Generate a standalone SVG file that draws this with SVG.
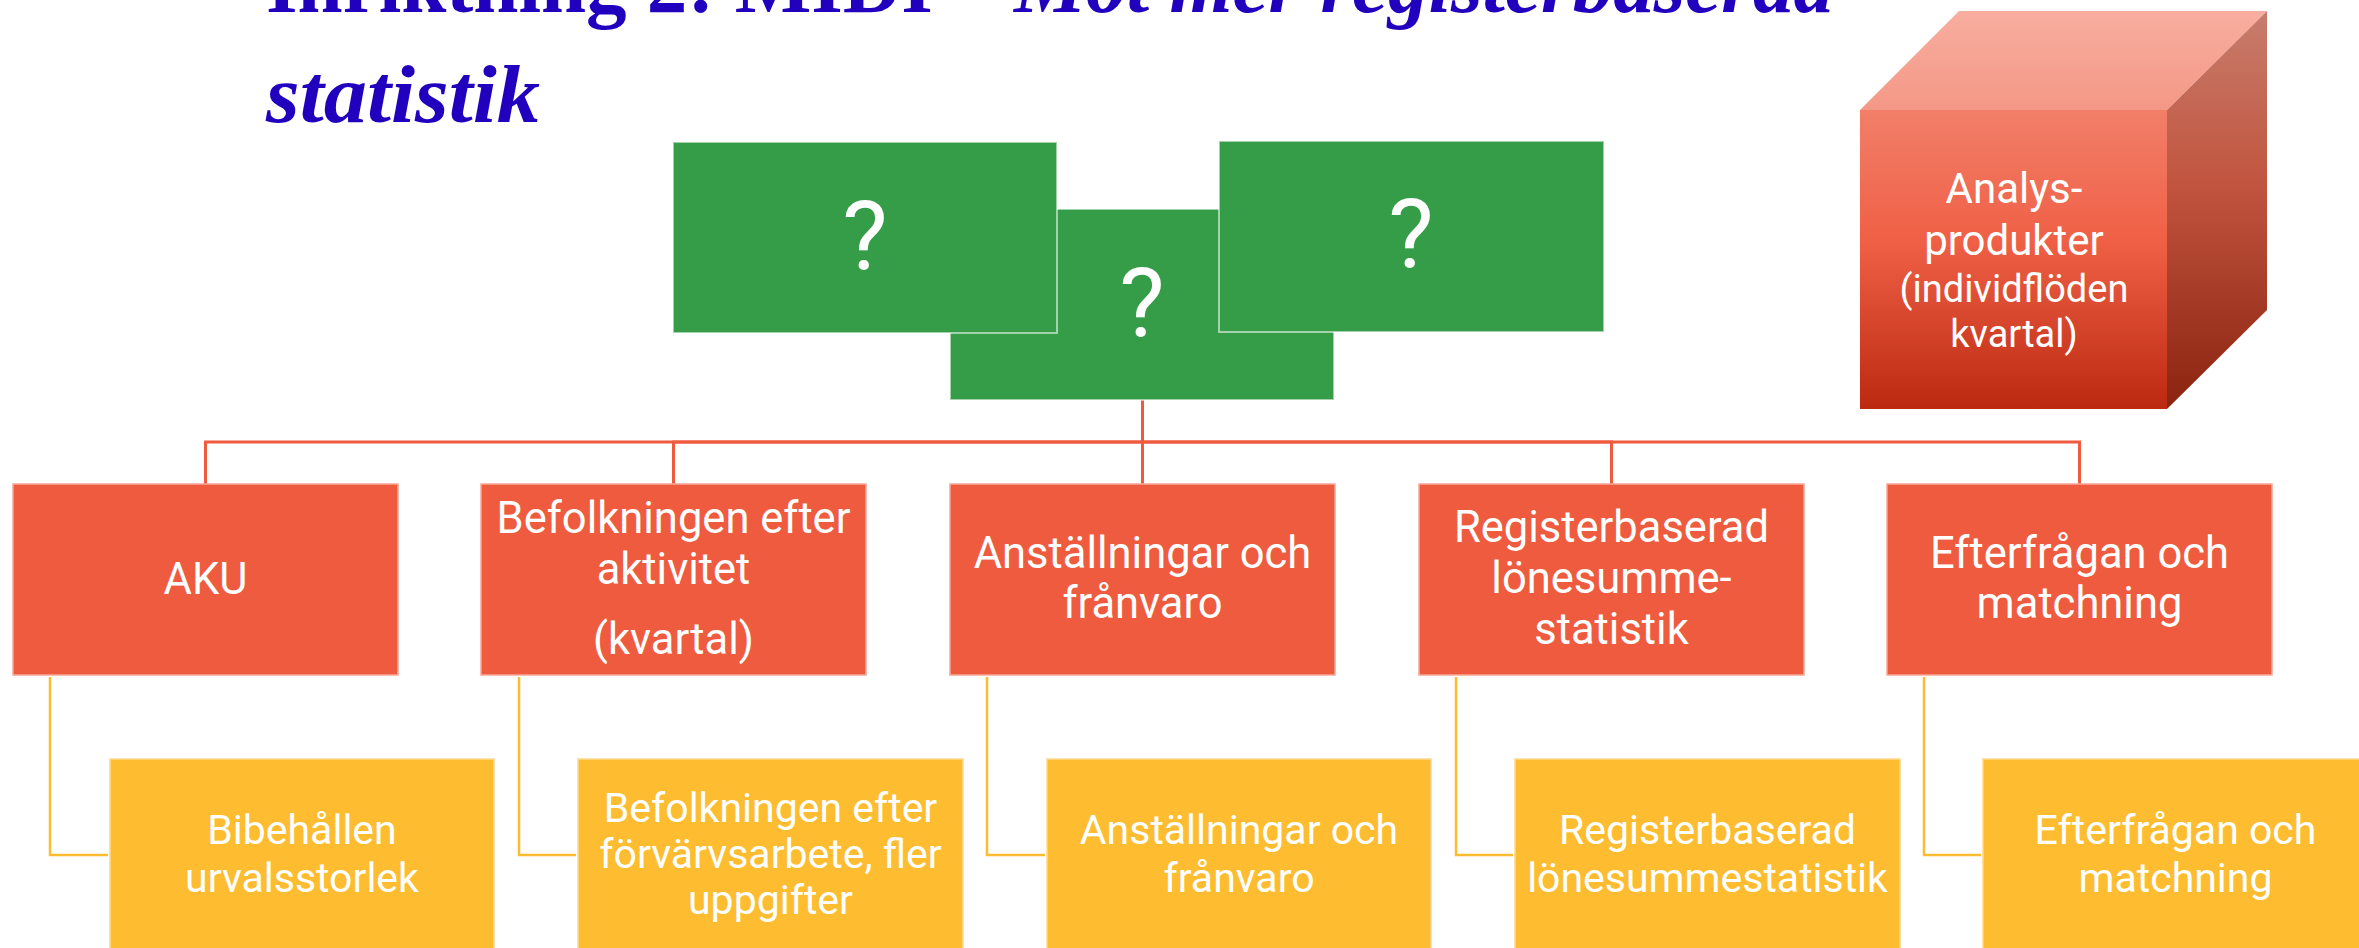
<svg xmlns="http://www.w3.org/2000/svg" width="2359" height="948" viewBox="0 0 2359 948">
<defs>
<linearGradient id="gFront" x1="0" y1="0" x2="0" y2="1">
<stop offset="0" stop-color="#F27F69"/>
<stop offset="0.45" stop-color="#EF5F45"/>
<stop offset="1" stop-color="#BB2A10"/>
</linearGradient>
<linearGradient id="gTop" x1="0" y1="0" x2="0" y2="1">
<stop offset="0" stop-color="#F8AE9F"/>
<stop offset="1" stop-color="#F49886"/>
</linearGradient>
<linearGradient id="gSide" x1="0" y1="0" x2="0" y2="1">
<stop offset="0" stop-color="#C87D6D"/>
<stop offset="0.45" stop-color="#C0533D"/>
<stop offset="1" stop-color="#8A230F"/>
</linearGradient>
</defs>
<style>
.title{font-family:"Liberation Serif","Times New Roman",serif;font-weight:bold;fill:#2100BE;font-size:82px}
.it{font-style:italic}
.green{fill:#359C48;stroke:#FFFFFF;stroke-opacity:0.55;stroke-width:2}
.orange{fill:#EF5B3F;stroke:#F6A898;stroke-width:1.5}
.yellow{fill:#FEBD31;stroke:#FDD98E;stroke-width:1.5}
.t{font-family:Roboto,"Liberation Sans",Arial,sans-serif;fill:#FFFFFF;text-anchor:middle}
.q{font-size:96px}
.o{font-size:43.5px}
.y{font-size:41px}
.c{font-size:42px}
.c2{font-size:38px}
.l1{fill:none;stroke:#EF5B3F;stroke-width:3}
.l2{fill:none;stroke:#FDBD30;stroke-width:2.5}
</style>

<g id="title">
<text class="title" x="266" y="12" textLength="1568" lengthAdjust="spacingAndGlyphs">Inriktning 2: MIDI – <tspan class="it">Mot mer registerbaserad</tspan></text>
<text class="title it" x="266" y="122" font-size="84" textLength="274" lengthAdjust="spacingAndGlyphs">statistik</text>
</g>

<g id="connectors">
<path class="l1" d="M1142.5,400 V442 H205.5 V484"/>
<path class="l1" d="M1142.5,400 V442 H673.5 V484"/>
<path class="l1" d="M1142.5,400 V484"/>
<path class="l1" d="M1142.5,400 V442 H1611.5 V484"/>
<path class="l1" d="M1142.5,400 V442 H2079.5 V484"/>
<path class="l2" d="M50,677 V855 H108"/>
<path class="l2" d="M519,677 V855 H576"/>
<path class="l2" d="M987,677 V855 H1045"/>
<path class="l2" d="M1456,677 V855 H1513"/>
<path class="l2" d="M1924,677 V855 H1981"/>
</g>

<g id="q-center">
<rect class="green" x="950" y="209" width="384" height="191"/>
<text class="t q" x="1142" y="336">?</text>
</g>
<g id="q-left">
<rect class="green" x="673" y="142" width="384" height="191"/>
<text class="t q" x="865" y="269">?</text>
</g>
<g id="q-right">
<rect class="green" x="1219" y="141" width="385" height="191"/>
<text class="t q" x="1411" y="267">?</text>
</g>

<g id="cube">
<polygon points="1860,110 1959,11 2267,11 2167,110" fill="url(#gTop)"/>
<polygon points="2167,110 2267,11 2267,310 2167,409" fill="url(#gSide)"/>
<rect x="1860" y="110" width="307" height="299" fill="url(#gFront)"/>
<text class="t c" x="2014" y="203">Analys-</text>
<text class="t c" x="2014" y="255">produkter</text>
<text class="t c2" x="2014" y="302">(individflöden</text>
<text class="t c2" x="2014" y="347">kvartal)</text>
</g>

<g id="aku">
<rect class="orange" x="13" y="484" width="385" height="191"/>
<text class="t o" x="205.5" y="594">AKU</text>
</g>
<g id="befolkning-aktivitet">
<rect class="orange" x="481" y="484" width="385" height="191"/>
<text class="t o" x="673.5" y="533">Befolkningen efter</text>
<text class="t o" x="673.5" y="584">aktivitet</text>
<text class="t o" x="673.5" y="654">(kvartal)</text>
</g>
<g id="anstallningar">
<rect class="orange" x="950" y="484" width="385" height="191"/>
<text class="t o" x="1142.5" y="568">Anställningar och</text>
<text class="t o" x="1142.5" y="618">frånvaro</text>
</g>
<g id="lonesumme">
<rect class="orange" x="1419" y="484" width="385" height="191"/>
<text class="t o" x="1611.5" y="542">Registerbaserad</text>
<text class="t o" x="1611.5" y="593">lönesumme-</text>
<text class="t o" x="1611.5" y="644">statistik</text>
</g>
<g id="efterfragan">
<rect class="orange" x="1887" y="484" width="385" height="191"/>
<text class="t o" x="2079.5" y="568">Efterfrågan och</text>
<text class="t o" x="2079.5" y="618">matchning</text>
</g>

<g id="urval">
<rect class="yellow" x="110" y="759" width="384" height="192"/>
<text class="t y" x="302" y="844">Bibehållen</text>
<text class="t y" x="302" y="892">urvalsstorlek</text>
</g>
<g id="befolkning-forvarv">
<rect class="yellow" x="578" y="759" width="385" height="192"/>
<text class="t y" x="770.5" y="822">Befolkningen efter</text>
<text class="t y" x="770.5" y="868">förvärvsarbete, fler</text>
<text class="t y" x="770.5" y="914">uppgifter</text>
</g>
<g id="anstallningar-2">
<rect class="yellow" x="1047" y="759" width="384" height="192"/>
<text class="t y" x="1239" y="844">Anställningar och</text>
<text class="t y" x="1239" y="892">frånvaro</text>
</g>
<g id="lonesumme-2">
<rect class="yellow" x="1515" y="759" width="385" height="192"/>
<text class="t y" x="1707.5" y="844">Registerbaserad</text>
<text class="t y" x="1707.5" y="892">lönesummestatistik</text>
</g>
<g id="efterfragan-2">
<rect class="yellow" x="1983" y="759" width="385" height="192"/>
<text class="t y" x="2175.5" y="844">Efterfrågan och</text>
<text class="t y" x="2175.5" y="892">matchning</text>
</g>
</svg>
